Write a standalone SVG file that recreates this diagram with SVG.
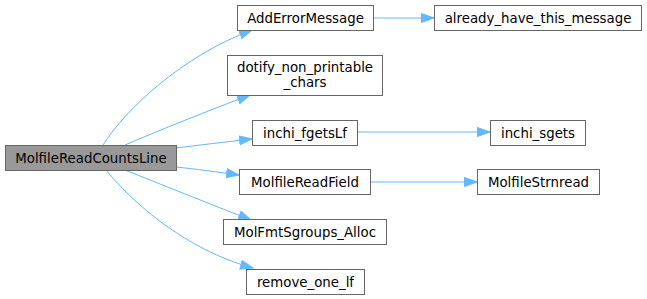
<svg xmlns="http://www.w3.org/2000/svg" width="647" height="299" viewBox="0 0 647 299">
<style>
.n rect{fill:#ffffff;stroke:#666666;stroke-width:1}
.n.m rect{fill:#999999}
.n text{font-family:"DejaVu Sans",sans-serif;font-size:13.33px;fill:#000000;text-anchor:middle}
.e path{fill:none;stroke:#63b8ff;stroke-width:1}
</style>
<defs>
<marker id="a" markerUnits="userSpaceOnUse" markerWidth="16" markerHeight="12" refX="13" refY="5" orient="auto">
<path d="M0.5,0.5 L13,5 L0.5,9.5 z" fill="#63b8ff" stroke="#63b8ff"/>
</marker>
</defs>
<g id="edges" class="e">
<path d="M103,145 C125,110 182,56 252,30" marker-end="url(#a)"/>
<path d="M125,145 C160,130 210,110 250,95" marker-end="url(#a)"/>
<path d="M176,148 C200,145 225,142 252,139" marker-end="url(#a)"/>
<path d="M176,167 C195,169 218,172 239,175" marker-end="url(#a)"/>
<path d="M125,170 C160,184 210,204 251,220" marker-end="url(#a)"/>
<path d="M106,170 C130,200 185,250 253,268" marker-end="url(#a)"/>
<path d="M373,18 L434,18" marker-end="url(#a)"/>
<path d="M358,132 L490,132" marker-end="url(#a)"/>
<path d="M371,182 L477,182" marker-end="url(#a)"/>
</g>
<g id="MolfileReadCountsLine" class="n m"><rect x="5.5" y="145.5" width="171" height="25"/><text x="91" y="162.5">MolfileReadCountsLine</text></g>
<g id="AddErrorMessage" class="n"><rect x="237.5" y="5.5" width="136" height="25"/><text x="305.5" y="22.5">AddErrorMessage</text></g>
<g id="dotify_non_printable_chars" class="n"><rect x="227.5" y="55.5" width="155" height="40"/><text x="305" y="72">dotify_non_printable</text><text x="305" y="87">_chars</text></g>
<g id="inchi_fgetsLf" class="n"><rect x="252.5" y="120.5" width="105" height="25"/><text x="305" y="137.5">inchi_fgetsLf</text></g>
<g id="MolfileReadField" class="n"><rect x="239.5" y="169.5" width="131" height="25"/><text x="305" y="186.5">MolfileReadField</text></g>
<g id="MolFmtSgroups_Alloc" class="n"><rect x="223.5" y="219.5" width="163" height="25"/><text x="305" y="236.5">MolFmtSgroups_Alloc</text></g>
<g id="remove_one_lf" class="n"><rect x="246.5" y="269.5" width="118" height="25"/><text x="305.5" y="286.5">remove_one_lf</text></g>
<g id="already_have_this_message" class="n"><rect x="434.5" y="5.5" width="207" height="25"/><text x="538" y="22.5">already_have_this_message</text></g>
<g id="inchi_sgets" class="n"><rect x="490.5" y="120.5" width="95" height="25"/><text x="538" y="137.5">inchi_sgets</text></g>
<g id="MolfileStrnread" class="n"><rect x="477.5" y="169.5" width="122" height="25"/><text x="538.5" y="186.5">MolfileStrnread</text></g>
</svg>
